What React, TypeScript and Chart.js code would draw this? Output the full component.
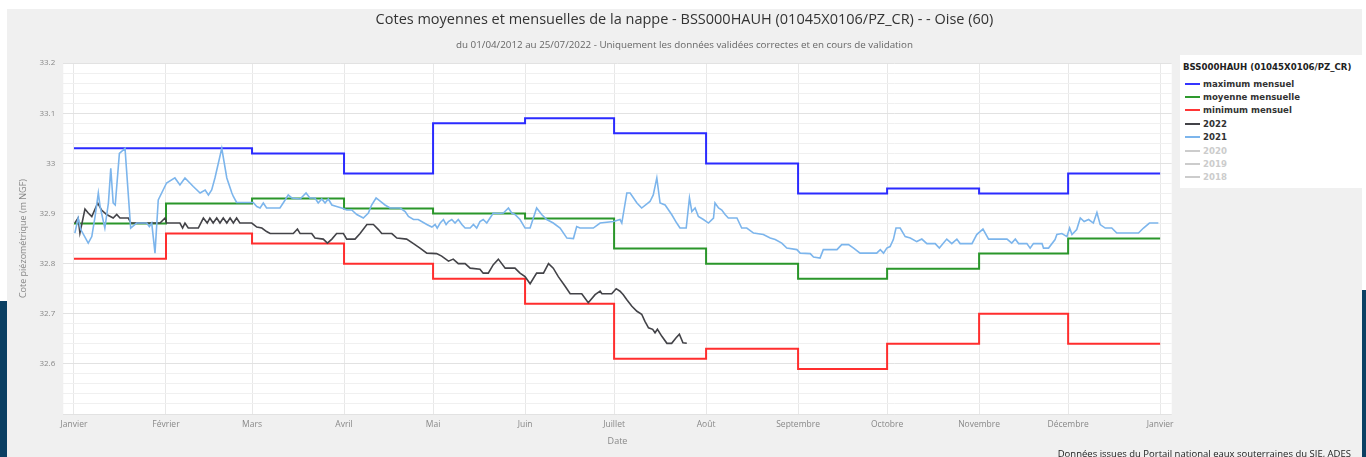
import React, { useEffect, useRef } from 'react';
import { Chart, registerables, layouts } from 'chart.js';

Chart.register(...registerables);

// ---- Data ----
const monthStarts = [0, 31, 60, 91, 121, 152, 182, 213, 244, 274, 305, 335, 366];
const monthLabels = ['Janvier', 'Février', 'Mars', 'Avril', 'Mai', 'Juin', 'Juillet', 'Août', 'Septembre', 'Octobre', 'Novembre', 'Décembre', 'Janvier'];

const maxMensuel = [33.03, 33.03, 33.02, 32.98, 33.08, 33.09, 33.06, 33.0, 32.94, 32.95, 32.94, 32.98];
const moyMensuelle = [32.88, 32.92, 32.93, 32.91, 32.9, 32.89, 32.83, 32.8, 32.77, 32.79, 32.82, 32.85];
const minMensuel = [32.81, 32.86, 32.84, 32.8, 32.77, 32.72, 32.61, 32.63, 32.59, 32.64, 32.7, 32.64];

const days2022 = [0.3, 1.4, 2.0, 3.7, 4.8, 6.0, 8.0, 9.3, 11.0, 13.2, 14.4, 15.5, 18.3, 19.2, 29.0, 30.7, 31.2, 35.7, 36.6, 37.4, 38.5, 41.9, 43.6, 44.9, 45.8, 46.9, 48.1, 49.2, 50.3, 51.5, 52.6, 53.7, 54.8, 55.9, 59.9, 61.6, 63.3, 64.9, 66.1, 73.9, 75.3, 76.2, 80.1, 81.2, 84.0, 85.4, 86.9, 88.5, 90.8, 91.9, 94.7, 96.4, 98.7, 100.9, 102.6, 103.7, 107.1, 108.8, 112.1, 114.4, 116.6, 118.9, 122.2, 123.9, 126.2, 127.8, 129.5, 131.8, 133.5, 136.8, 137.9, 139.6, 141.3, 143.0, 145.3, 148.6, 150.3, 152.0, 153.7, 155.9, 158.2, 159.9, 161.5, 163.2, 165.5, 167.2, 171.1, 173.3, 175.6, 177.3, 177.9, 181.2, 182.7, 184.0, 185.1, 186.3, 188.0, 189.7, 191.3, 192.4, 193.6, 195.0, 195.8, 196.6, 198.1, 199.8, 201.4, 202.9, 204.0, 205.2, 206.5];
const level2022 = [32.881, 32.891, 32.861, 32.909, 32.901, 32.894, 32.921, 32.907, 32.898, 32.891, 32.898, 32.891, 32.891, 32.881, 32.881, 32.891, 32.881, 32.881, 32.871, 32.881, 32.871, 32.871, 32.891, 32.881, 32.891, 32.881, 32.891, 32.881, 32.891, 32.881, 32.891, 32.881, 32.891, 32.881, 32.881, 32.873, 32.871, 32.864, 32.86, 32.86, 32.869, 32.86, 32.86, 32.851, 32.849, 32.841, 32.849, 32.86, 32.86, 32.849, 32.849, 32.86, 32.878, 32.878, 32.868, 32.86, 32.86, 32.851, 32.849, 32.84, 32.831, 32.821, 32.82, 32.815, 32.805, 32.809, 32.8, 32.8, 32.791, 32.789, 32.781, 32.781, 32.798, 32.809, 32.791, 32.791, 32.781, 32.774, 32.76, 32.781, 32.781, 32.8, 32.791, 32.774, 32.755, 32.74, 32.74, 32.722, 32.738, 32.745, 32.74, 32.74, 32.75, 32.745, 32.738, 32.728, 32.715, 32.705, 32.699, 32.685, 32.672, 32.669, 32.662, 32.669, 32.655, 32.641, 32.641, 32.652, 32.659, 32.642, 32.641];

const days2021 = [0.3, 1.4, 2.3, 4.8, 6.0, 7.1, 8.2, 8.8, 10.4, 11.6, 12.4, 13.2, 13.9, 15.3, 17.2, 19.1, 21.1, 24.5, 25.4, 26.2, 27.3, 28.4, 31.2, 34.0, 35.7, 37.4, 40.2, 42.5, 44.2, 45.3, 46.4, 47.5, 49.8, 51.5, 53.2, 53.7, 54.8, 60.4, 61.6, 62.7, 63.8, 64.9, 69.4, 70.5, 72.2, 73.4, 76.2, 78.2, 79.5, 81.2, 82.3, 83.5, 84.6, 85.7, 86.9, 88.5, 90.2, 91.9, 93.6, 95.3, 97.5, 99.2, 100.3, 101.8, 103.7, 104.8, 106.5, 109.9, 111.6, 112.7, 114.4, 116.0, 118.9, 120.6, 121.7, 122.4, 123.4, 124.5, 125.4, 126.2, 127.3, 128.4, 129.5, 130.7, 131.8, 133.5, 134.6, 135.7, 136.8, 137.9, 139.1, 140.2, 141.3, 143.0, 144.7, 146.4, 147.5, 148.6, 150.3, 152.0, 153.7, 155.9, 157.6, 159.3, 161.5, 163.8, 166.1, 168.3, 169.4, 170.5, 175.0, 177.3, 181.8, 184.0, 184.6, 186.3, 187.4, 189.7, 191.3, 194.1, 195.2, 196.4, 197.5, 199.2, 201.4, 203.1, 204.2, 206.3, 207.4, 208.2, 209.3, 210.4, 212.1, 213.8, 215.5, 216.0, 217.2, 218.3, 219.4, 220.5, 223.4, 225.0, 226.7, 229.0, 232.3, 234.6, 236.3, 238.5, 240.2, 243.6, 244.7, 248.1, 249.2, 251.4, 252.5, 257.1, 258.7, 261.0, 262.7, 264.9, 270.5, 271.7, 272.8, 273.9, 275.0, 276.1, 277.0, 278.4, 280.1, 281.8, 284.0, 285.7, 287.4, 290.2, 291.6, 294.1, 295.8, 297.5, 298.6, 302.6, 304.2, 306.3, 308.2, 314.4, 316.0, 317.2, 318.3, 321.1, 322.2, 323.3, 326.2, 326.7, 328.4, 330.6, 331.2, 332.9, 334.6, 335.5, 336.3, 337.9, 339.1, 340.4, 341.9, 343.5, 344.7, 345.8, 347.5, 349.7, 351.4, 358.7, 360.4, 362.4, 365.4];
const level2021 = [32.861, 32.891, 32.868, 32.841, 32.854, 32.894, 32.941, 32.914, 32.871, 32.921, 32.99, 32.921, 32.917, 33.02, 33.03, 32.871, 32.881, 32.881, 32.874, 32.881, 32.821, 32.927, 32.961, 32.971, 32.957, 32.971, 32.954, 32.941, 32.947, 32.937, 32.947, 32.971, 33.03, 32.971, 32.941, 32.934, 32.922, 32.922, 32.914, 32.911, 32.921, 32.911, 32.911, 32.921, 32.937, 32.931, 32.929, 32.941, 32.931, 32.931, 32.921, 32.929, 32.921, 32.929, 32.917, 32.914, 32.911, 32.907, 32.907, 32.898, 32.891, 32.901, 32.917, 32.931, 32.922, 32.917, 32.911, 32.911, 32.904, 32.894, 32.888, 32.888, 32.878, 32.873, 32.878, 32.871, 32.881, 32.888, 32.878, 32.884, 32.888, 32.881, 32.888, 32.878, 32.871, 32.871, 32.878, 32.871, 32.884, 32.888, 32.881, 32.891, 32.901, 32.9, 32.901, 32.911, 32.901, 32.898, 32.888, 32.871, 32.871, 32.911, 32.898, 32.888, 32.881, 32.871, 32.851, 32.85, 32.874, 32.871, 32.871, 32.881, 32.884, 32.888, 32.881, 32.941, 32.941, 32.921, 32.911, 32.924, 32.937, 32.971, 32.921, 32.917, 32.898, 32.881, 32.871, 32.871, 32.931, 32.904, 32.911, 32.894, 32.888, 32.881, 32.891, 32.921, 32.911, 32.907, 32.898, 32.891, 32.891, 32.871, 32.871, 32.861, 32.858, 32.851, 32.848, 32.841, 32.831, 32.828, 32.821, 32.82, 32.813, 32.811, 32.828, 32.828, 32.838, 32.838, 32.831, 32.821, 32.821, 32.828, 32.821, 32.831, 32.834, 32.848, 32.871, 32.871, 32.854, 32.851, 32.844, 32.849, 32.84, 32.84, 32.831, 32.849, 32.84, 32.849, 32.84, 32.84, 32.858, 32.869, 32.849, 32.849, 32.841, 32.849, 32.84, 32.84, 32.831, 32.84, 32.84, 32.831, 32.831, 32.848, 32.858, 32.86, 32.854, 32.871, 32.858, 32.868, 32.891, 32.884, 32.888, 32.881, 32.902, 32.878, 32.871, 32.871, 32.861, 32.861, 32.871, 32.881, 32.881];

const legendTitle = 'BSS000HAUH (01045X0106/PZ_CR)';
const legendLabels = ['maximum mensuel', 'moyenne mensuelle', 'minimum mensuel', '2022', '2021', '2020', '2019', '2018'];
const legendColors = ['#3535ff', '#2e9a2e', '#ff3535', '#434348', '#7cb5ec', '#cccccc', '#cccccc', '#cccccc'];
const legendHidden = [false, false, false, false, false, true, true, true];

const chartTitle = 'Cotes moyennes et mensuelles de la nappe - BSS000HAUH (01045X0106/PZ_CR) - - Oise (60)';
const chartSubtitle = 'du 01/04/2012 au 25/07/2022 - Uniquement les données validées correctes et en cours de validation';
const yAxisTitle = 'Cote piézométrique (m NGF)';
const xAxisTitle = 'Date';
const sourceText = 'Données issues du Portail national eaux souterraines du SIE, ADES';

const FONT = "'Open Sans', 'DejaVu Sans', sans-serif";

function stepData(vals: number[]) {
  return monthStarts.map((d, i) => ({ x: d, y: vals[Math.min(i, vals.length - 1)] }));
}
function pairData(xs: number[], ys: number[]) {
  return xs.map((x, i) => ({ x, y: ys[i] }));
}

const bgPlugin = {
  id: 'plotBg',
  beforeDraw(chart: any) {
    const { ctx, chartArea } = chart;
    if (!chartArea) return;
    ctx.save();
    ctx.fillStyle = '#ffffff';
    ctx.fillRect(chartArea.left, chartArea.top, chartArea.right - chartArea.left, chartArea.bottom - chartArea.top);
    ctx.restore();
  },
};

// Reserves room on the right for the legend panel, without narrowing the title boxes.
const rightSpacerPlugin = {
  id: 'rightSpacer',
  beforeInit(chart: any) {
    const box: any = {
      position: 'right',
      weight: 100,
      fullSize: false,
      options: {},
      left: 0,
      top: 0,
      right: 0,
      bottom: 0,
      width: 0,
      height: 0,
      update(_maxWidth: number, maxHeight: number) {
        this.width = 190.3;
        this.height = maxHeight;
      },
      isHorizontal() {
        return false;
      },
      draw() {},
    };
    layouts.addBox(chart, box);
  },
};

export default function App() {
  const ref = useRef<HTMLCanvasElement>(null);

  useEffect(() => {
    document.body.style.margin = '0';
    const isMajor = (v: number) => Math.abs(v * 10 - Math.round(v * 10)) < 1e-6;
    const chart = new Chart(ref.current as HTMLCanvasElement, {
      type: 'line',
      data: {
        datasets: [
          { label: '2021', data: pairData(days2021, level2021), borderColor: '#7cb5ec', borderWidth: 1.6, pointRadius: 0, tension: 0, order: 0 },
          { label: '2022', data: pairData(days2022, level2022), borderColor: '#434348', borderWidth: 1.6, pointRadius: 0, tension: 0, order: 1 },
          { label: 'minimum mensuel', data: stepData(minMensuel), borderColor: '#ff2e2e', borderWidth: 2, pointRadius: 0, stepped: 'before', order: 2 },
          { label: 'moyenne mensuelle', data: stepData(moyMensuelle), borderColor: '#2a962a', borderWidth: 2, pointRadius: 0, stepped: 'before', order: 3 },
          { label: 'maximum mensuel', data: stepData(maxMensuel), borderColor: '#2b2bff', borderWidth: 2, pointRadius: 0, stepped: 'before', order: 4 },
        ] as any,
      },
      options: {
        animation: false,
        responsive: true,
        maintainAspectRatio: false,
        parsing: false as any,
        layout: { padding: { left: 0, right: 0, top: 0, bottom: 0 } },
        plugins: {
          legend: { display: false },
          tooltip: { enabled: false },
          title: {
            display: true,
            text: chartTitle,
            color: '#333333',
            font: { family: FONT, size: 14.5, weight: 'normal' as any },
            padding: { top: 2.3, bottom: 10.8 },
          },
          subtitle: {
            display: true,
            text: chartSubtitle,
            color: '#666666',
            font: { family: FONT, size: 9.8 },
            padding: { top: 0, bottom: 11.9 },
          },
        },
        scales: {
          x: {
            type: 'linear',
            min: -3.6,
            max: 369.9,
            afterBuildTicks: (scale: any) => {
              scale.ticks = monthStarts.map((v) => ({ value: v }));
            },
            afterFit: (scale: any) => {
              scale.height = 43;
            },
            ticks: {
              autoSkip: false,
              maxRotation: 0,
              padding: 5,
              color: '#888888',
              font: { family: FONT, size: 8.5 },
              callback: (v: any) => {
                const i = monthStarts.indexOf(Number(v));
                return i >= 0 ? monthLabels[i] : '';
              },
            },
            grid: { color: '#e8e8e8', lineWidth: 1, drawTicks: false },
            border: { display: false },
            title: {
              display: true,
              text: xAxisTitle,
              color: '#888888',
              font: { family: FONT, size: 9 },
              padding: { top: 0, bottom: 10.6 },
            },
          },
          y: {
            type: 'linear',
            min: 32.5,
            max: 33.2,
            afterBuildTicks: (scale: any) => {
              const t = [];
              for (let i = 0; i <= 35; i++) t.push({ value: Number((32.5 + i * 0.02).toFixed(2)) });
              scale.ticks = t;
            },
            afterFit: (scale: any) => {
              scale.width = 56.3;
            },
            ticks: {
              autoSkip: false,
              padding: 8,
              color: '#888888',
              font: { family: FONT, size: 8 },
              callback: (v: any) => {
                const n = Number(v);
                if (!isMajor(n) || n < 32.55) return '';
                return String(Number(n.toFixed(1)));
              },
            },
            grid: {
              drawTicks: false,
              color: (ctx: any) => (ctx.tick && isMajor(ctx.tick.value) ? '#e2e2e2' : '#f0f0f0'),
              lineWidth: 1,
            },
            border: { display: false },
            title: {
              display: true,
              text: yAxisTitle,
              color: '#888888',
              font: { family: FONT, size: 9 },
              padding: { top: 10.6, bottom: 4 },
            },
          },
        },
      } as any,
      plugins: [bgPlugin, rightSpacerPlugin],
    });
    return () => chart.destroy();
  }, []);

  return (
    <div style={{ position: 'relative', width: 1366, height: 457, overflow: 'hidden', background: '#ffffff', fontFamily: FONT }}>
      <div style={{ position: 'absolute', left: 7, top: 9, width: 1355, height: 448, background: '#f0f0f0' }} />
      <div style={{ position: 'absolute', left: 7, top: 9, width: 1355, height: 448 }}>
        <canvas ref={ref} />
      </div>
      <div style={{ position: 'absolute', left: 1180, top: 55, width: 182, height: 133, background: '#ffffff' }}>
        <div style={{ position: 'absolute', left: 3, top: 7, fontFamily: "'DejaVu Sans', sans-serif", fontWeight: 'bold', fontSize: 8.6, color: '#222', whiteSpace: 'nowrap', lineHeight: '11px' }}>
          {legendTitle}
        </div>
        {legendLabels.map((lab, i) => (
          <div key={lab} style={{ position: 'absolute', left: 5, top: 22.5 + i * 13.4, height: 12, display: 'flex', alignItems: 'center', whiteSpace: 'nowrap' }}>
            <span style={{ display: 'inline-block', width: 15, height: 2, background: legendColors[i], marginRight: 3 }} />
            <span style={{ fontFamily: "'DejaVu Sans', sans-serif", fontWeight: 'bold', fontSize: 8.6, color: legendHidden[i] ? '#cccccc' : '#333333' }}>{lab}</span>
          </div>
        ))}
      </div>
      <div style={{ position: 'absolute', left: 0, top: 301, width: 7, height: 156, background: '#0b3f62' }} />
      <div style={{ position: 'absolute', left: 1362, top: 290, width: 4, height: 167, background: '#0b3f62' }} />
      <div style={{ position: 'absolute', right: 15, top: 448, fontSize: 9.5, color: '#222', whiteSpace: 'nowrap', lineHeight: '12px' }}>
        {sourceText}
      </div>
    </div>
  );
}
